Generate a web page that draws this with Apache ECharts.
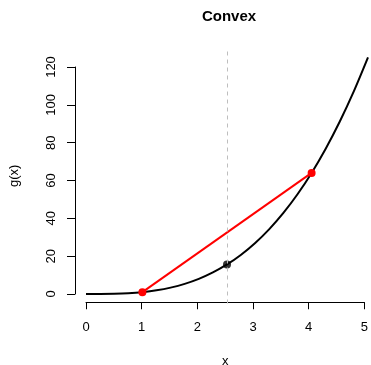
<!DOCTYPE html>
<html>
<head>
<meta charset="utf-8">
<script src="https://cdn.jsdelivr.net/npm/echarts@6/dist/echarts.min.js"></script>
<style>html,body{margin:0;padding:0;background:#fff}#c{width:371px;height:365px}</style>
</head>
<body>
<div id="c"></div>
<script>
// Curve g(x)
const curveX = [0,0.25,0.5,0.75,1,1.25,1.5,1.75,2,2.25,2.5,2.75,3,3.25,3.5,3.75,4,4.25,4.5,4.75,5];
const curveY = [0,0.016,0.125,0.42,1,1.95,3.38,5.36,8,11.39,15.63,20.8,27,34.33,42.88,52.73,64,76.77,91.13,107.17,125];
// Chord endpoints (red)
const chordX = [1,4];
const chordY = [1,64];
// Midpoint on the curve (black dot)
const midX = [2.5];
const midY = [15.63];
// Dashed reference line
const vLine = 2.5;
// Tick labels
const xTicks = [0,1,2,3,4,5];
const yTicks = [0,20,40,60,80,100,120];

const font = 'Liberation Sans, Arial, Helvetica, sans-serif';
const chart = echarts.init(document.getElementById('c'), null, {renderer:'canvas'});
const zip = (a,b)=>a.map((v,i)=>[v,b[i]]);

chart.setOption({
  animation:false,
  backgroundColor:'#fff',
  title:{text:'Convex', left:224, top:4, textAlign:'center',
    textStyle:{fontFamily:font, fontWeight:'bold', fontSize:15, color:'#000'}},
  grid:[
    {left:86, top:48, width:282, height:255.5},
    {left:86, top:302, width:282, height:1},
    {left:75, top:67, width:1, height:227}
  ],
  xAxis:[
    {gridIndex:0, type:'value', min:0, max:5, show:false},
    {gridIndex:1, type:'value', min:xTicks[0], max:xTicks[xTicks.length-1], interval:1, position:'bottom',
      axisLine:{show:true, onZero:false, lineStyle:{color:'#000', width:1}},
      axisTick:{show:true, length:7, lineStyle:{color:'#000'}},
      axisLabel:{show:true, margin:19, fontFamily:font, fontSize:13, color:'#000'},
      splitLine:{show:false},
      name:'x', nameLocation:'middle', nameGap:53,
      nameTextStyle:{fontFamily:font, fontSize:13, color:'#000'}},
    {gridIndex:2, type:'value', min:0, max:1, show:false}
  ],
  yAxis:[
    {gridIndex:0, type:'value', min:-5, max:130,
      axisLine:{show:false}, axisTick:{show:false}, axisLabel:{show:false}, splitLine:{show:false},
      name:'g(x)', nameLocation:'middle', nameRotate:90, nameGap:65,
      nameTextStyle:{fontFamily:font, fontSize:13, color:'#000'}},
    {gridIndex:1, type:'value', min:0, max:1, show:false},
    {gridIndex:2, type:'value', min:yTicks[0], max:yTicks[yTicks.length-1], interval:20, position:'left',
      axisLine:{show:true, onZero:false, lineStyle:{color:'#000', width:1}},
      axisTick:{show:true, length:8, lineStyle:{color:'#000'}},
      axisLabel:{show:true, rotate:90, margin:17, fontFamily:font, fontSize:13, color:'#000'},
      splitLine:{show:false}}
  ],
  series:[
    {type:'line', xAxisIndex:0, yAxisIndex:0, data:zip(curveX,curveY), smooth:0.3,
      showSymbol:false, lineStyle:{color:'#000', width:2}, silent:true, clip:false,
      markLine:{silent:true, symbol:['none','none'], label:{show:false},
        lineStyle:{color:'#bebebe', type:[4,4], width:1},
        data:[{xAxis:vLine}]}},
    {type:'line', xAxisIndex:0, yAxisIndex:0, data:zip(chordX,chordY),
      symbol:'circle', symbolSize:8, showSymbol:true,
      lineStyle:{color:'#ff0000', width:2}, itemStyle:{color:'#ff0000'}},
    {type:'scatter', xAxisIndex:0, yAxisIndex:0, data:zip(midX,midY),
      symbol:'circle', symbolSize:8, itemStyle:{color:'#000'}}
  ]
});
</script>
</body>
</html>
